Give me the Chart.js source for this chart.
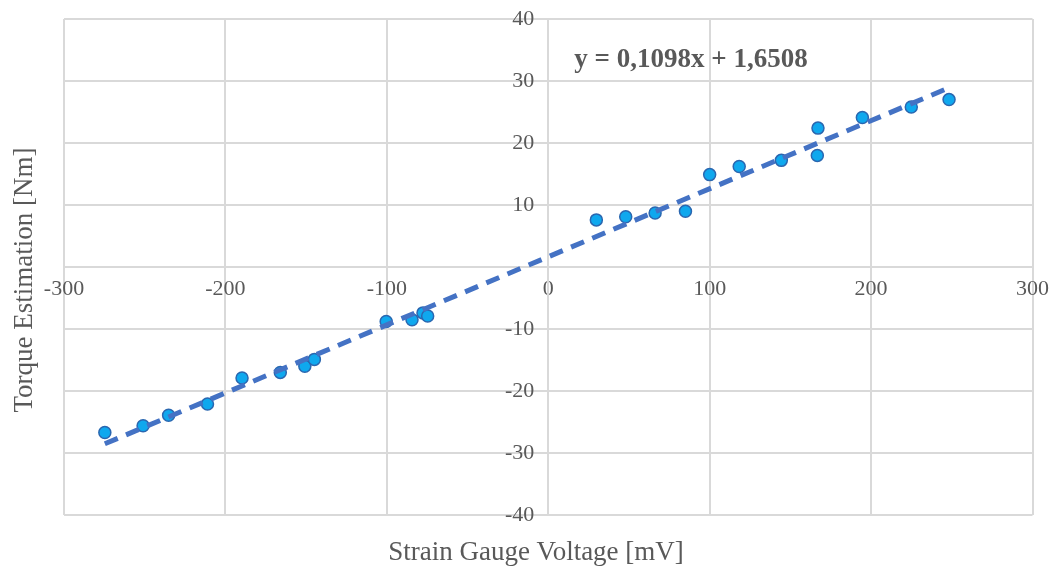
<!DOCTYPE html>
<html>
<head>
<meta charset="utf-8">
<script src="https://cdn.jsdelivr.net/npm/chart.js@4/dist/chart.umd.min.js"></script>
<style>
  html, body { margin: 0; padding: 0; background: #fff; }
  #wrap { width: 1058px; height: 567px; }
</style>
</head>
<body>
<div id="wrap"><canvas id="c"></canvas></div>
<script>
// measured points: strain gauge voltage [mV] vs torque [Nm]
var voltage = [-274.7, -251.0, -235.2, -211.1, -189.7, -166.0, -150.8, -144.9,
               -100.4, -84.4, -77.6, -74.7,
               29.8, 48.0, 66.2, 85.0, 100.0, 118.3, 144.4, 167.1, 166.7, 194.6, 224.9, 248.3];
var torque  = [-26.7, -25.6, -23.9, -22.1, -17.9, -17.0, -16.0, -14.9,
               -8.8, -8.5, -7.4, -7.9,
               7.6, 8.1, 8.7, 9.0, 14.9, 16.2, 17.2, 22.4, 18.0, 24.1, 25.8, 27.0];

// linear trend from the label
var slope = 0.1098;
var intercept = 1.6508;
var equationText = 'y = 0,1098x + 1,6508';

var xTitle = 'Strain Gauge Voltage [mV]';
var yTitle = 'Torque Estimation [Nm]';

var points = [];
for (var i = 0; i < voltage.length; i++) {
  points.push({ x: voltage[i], y: torque[i] });
}
var xMin = Math.min.apply(null, voltage);
var xMax = Math.max.apply(null, voltage);
var trend = [
  { x: xMin, y: slope * xMin + intercept },
  { x: xMax, y: slope * xMax + intercept }
];

var textColor = '#595959';
var gridColor = '#d9d9d9';
var serif = '"Liberation Serif", "Times New Roman", serif';

// y tick labels sit left of the centred axis, titles + equation drawn by hand
var labelsPlugin = {
  id: 'labels',
  afterDraw: function (chart) {
    var ctx = chart.ctx;
    var ys = chart.scales.y;
    var axisX = chart.scales.x.getPixelForValue(0);
    ctx.save();
    ctx.fillStyle = textColor;
    ctx.font = '22px ' + serif;
    ctx.textAlign = 'right';
    ctx.textBaseline = 'middle';
    ys.ticks.forEach(function (t) {
      if (t.value === 0) return;
      ctx.fillText(String(t.value), axisX - 14, ys.getPixelForValue(t.value));
    });

    ctx.textAlign = 'center';
    ctx.font = '27px ' + serif;
    ctx.fillText(xTitle, 536, 553);
    ctx.save();
    ctx.translate(25, 280);
    ctx.rotate(-Math.PI / 2);
    ctx.fillText(yTitle, 0, 0);
    ctx.restore();
    ctx.font = 'bold 27px ' + serif;
    ctx.fillText(equationText, 691, 60);
    ctx.restore();
  }
};

new Chart(document.getElementById('c'), {
  type: 'scatter',
  data: {
    datasets: [
      {
        label: 'trend',
        data: trend,
        showLine: true,
        pointRadius: 0,
        borderColor: '#4472c4',
        borderWidth: 5,
        borderDash: [14, 9],
        borderCapStyle: 'butt',
        fill: false
      },
      {
        label: 'torque',
        data: points,
        pointRadius: 6,
        pointHoverRadius: 6,
        backgroundColor: '#0fa8ee',
        borderColor: '#2a67b0',
        borderWidth: 1.5
      }
    ]
  },
  options: {
    responsive: true,
    maintainAspectRatio: false,
    animation: false,
    layout: { padding: { left: 64, right: 16, top: 19, bottom: 52 } },
    plugins: {
      legend: { display: false },
      tooltip: { enabled: false }
    },
    scales: {
      x: {
        type: 'linear',
        position: { y: 0 },
        min: -300,
        max: 300,
        grid: { color: gridColor, lineWidth: 2, drawTicks: false },
        border: { color: gridColor, width: 2 },
        ticks: {
          stepSize: 100,
          padding: 9,
          color: textColor,
          font: { family: serif, size: 22 },
          maxRotation: 0
        }
      },
      y: {
        type: 'linear',
        position: { x: 0 },
        min: -40,
        max: 40,
        grid: { color: gridColor, lineWidth: 2, drawTicks: false },
        border: { color: gridColor, width: 2 },
        ticks: {
          stepSize: 10,
          display: false
        }
      }
    }
  },
  plugins: [labelsPlugin]
});
</script>
</body>
</html>
